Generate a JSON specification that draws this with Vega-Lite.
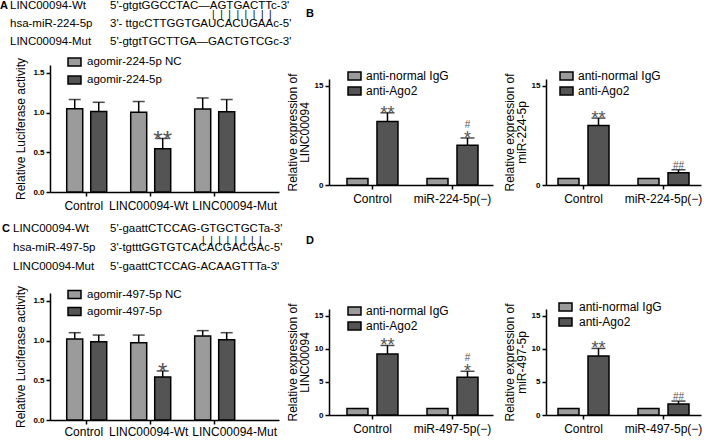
{
  "$schema": "https://vega.github.io/schema/vega-lite/v6.json",
  "padding": 0,
  "background": "white",
  "spacing": 12,
  "resolve": {"scale": {"fill": "independent"}, "legend": {"fill": "independent"}},
  "vconcat": [
    {
      "spacing": -6,
      "resolve": {"scale": {"fill": "independent"}, "legend": {"fill": "independent"}},
      "hconcat": [
        {
          "width": 229, "height": 127,
          "layer": [
            {
              "data": {"values": [
                {"group": "Control", "treatment": "agomir-224-5p NC", "mean": 1.05, "upper": 1.165},
                {"group": "Control", "treatment": "agomir-224-5p", "mean": 1.015, "upper": 1.13},
                {"group": "LINC00094-Wt", "treatment": "agomir-224-5p NC", "mean": 1.005, "upper": 1.14},
                {"group": "LINC00094-Wt", "treatment": "agomir-224-5p", "mean": 0.545, "upper": 0.675, "star": "**"},
                {"group": "LINC00094-Mut", "treatment": "agomir-224-5p NC", "mean": 1.045, "upper": 1.185},
                {"group": "LINC00094-Mut", "treatment": "agomir-224-5p", "mean": 1.01, "upper": 1.165}
              ]},
              "encoding": {
                "x": {"field": "group", "type": "nominal", "title": null, "sort": ["Control", "LINC00094-Wt", "LINC00094-Mut"], "scale": {"type": "band", "paddingInner": 0.375, "paddingOuter": 0.477, "align": 0.274},
                      "axis": {"labelOffset": {"condition": [{"test": "datum.value === 'LINC00094-Mut'", "value": 20}, {"test": "datum.value === 'LINC00094-Wt'", "value": -2}], "value": -3}}}
              },
              "layer": [
                {"transform": [{"filter": "datum.treatment === 'agomir-224-5p NC'"}], "mark": {"type": "bar", "stroke": "black", "strokeWidth": 1.5, "width": 16, "xOffset": -12},
                 "encoding": {
                   "y": {"field": "mean", "type": "quantitative", "scale": {"domain": [0, 1.5]}, "axis": {"values": [0, 0.5, 1, 1.5], "format": ".1f", "labelOverlap": false, "title": "Relative Luciferase activity", "titlePadding": 5}},
                   "fill": {"field": "treatment", "type": "nominal", "scale": {"domain": ["agomir-224-5p NC", "agomir-224-5p"], "range": ["#9b9b9b", "#545454"]}, "legend": {"title": null, "orient": "none", "legendX": 17, "legendY": -10.5, "rowPadding": 3, "labelFontSize": 11.5, "labelOffset": 5}}
                 }},
                {"transform": [{"filter": "datum.treatment === 'agomir-224-5p'"}], "mark": {"type": "bar", "stroke": "black", "strokeWidth": 1.5, "width": 16, "xOffset": 12},
                 "encoding": {"y": {"field": "mean", "type": "quantitative"}, "fill": {"field": "treatment", "type": "nominal"}}},
                {"transform": [{"filter": "datum.treatment === 'agomir-224-5p NC' && isValid(datum.upper)"}], "mark": {"type": "rule", "color": "black", "strokeWidth": 1.5, "xOffset": -12},
                 "encoding": {"y": {"field": "mean", "type": "quantitative"}, "y2": {"field": "upper"}}},
                {"transform": [{"filter": "datum.treatment === 'agomir-224-5p' && isValid(datum.upper)"}], "mark": {"type": "rule", "color": "black", "strokeWidth": 1.5, "xOffset": 12},
                 "encoding": {"y": {"field": "mean", "type": "quantitative"}, "y2": {"field": "upper"}}},
                {"transform": [{"filter": "datum.treatment === 'agomir-224-5p NC' && isValid(datum.upper)"}], "mark": {"type": "tick", "color": "black", "thickness": 1.5, "size": 12, "xOffset": -12},
                 "encoding": {"y": {"field": "upper", "type": "quantitative"}}},
                {"transform": [{"filter": "datum.treatment === 'agomir-224-5p' && isValid(datum.upper)"}], "mark": {"type": "tick", "color": "black", "thickness": 1.5, "size": 12, "xOffset": 12},
                 "encoding": {"y": {"field": "upper", "type": "quantitative"}}},
                {"transform": [{"filter": "datum.star"}], "mark": {"type": "text", "fontSize": 24, "baseline": "alphabetic", "dy": 9.5, "xOffset": 12, "color": "#555"},
                 "encoding": {"y": {"field": "upper", "type": "quantitative"}, "text": {"field": "star"}}}
              ]
            },
            {
              "data": {"values": [
                {"line": "Wt", "col": "name", "text": "LINC00094-Wt"},
                {"line": "Wt", "col": "seq", "text": "5'-gtgtGGCCTAC—AGTGACTTc-3'"},
                {"line": "miR", "col": "name", "text": "hsa-miR-224-5p"},
                {"line": "miR", "col": "seq", "text": "3'- ttgcCTTGGTGAUCACUGAAc-5'"},
                {"line": "Mut", "col": "name", "text": "LINC00094-Mut"},
                {"line": "Mut", "col": "seq", "text": "5'-gtgtTGCTTGA—GACTGTCGc-3'"}
              ]},
              "encoding": {
                "x": {"field": "col", "type": "nominal", "scale": {"type": "point", "domain": ["name", "seq"], "range": [-40, 60], "padding": 0}, "axis": null},
                "y": {"field": "line", "type": "nominal", "scale": {"type": "point", "domain": ["Wt", "miR", "Mut"], "range": [-59, -23], "padding": 0}, "axis": null}
              },
              "layer": [
                {"mark": {"type": "text", "align": "left", "baseline": "middle", "fontSize": 11.5, "color": "black"}, "encoding": {"text": {"field": "text"}}},
                {"transform": [{"filter": "datum.col === 'name' && datum.line === 'Wt'"}], "mark": {"type": "text", "align": "left", "baseline": "middle", "fontSize": 11, "fontWeight": "bold", "dx": -10, "color": "black"}, "encoding": {"text": {"value": "A"}}},
                {"transform": [{"filter": "datum.col === 'seq' && datum.line === 'Wt'"}], "mark": {"type": "text", "align": "left", "baseline": "middle", "fontSize": 10, "dx": 102, "dy": 9, "color": "black"}, "encoding": {"text": {"value": "|\u00a0\u00a0|\u00a0\u00a0|\u00a0\u00a0|\u00a0\u00a0|\u00a0\u00a0|\u00a0\u00a0|\u00a0\u00a0|"}}}
              ]
            }
          ],
          "resolve": {"scale": {"x": "independent", "y": "independent"}}
        },
        {
          "title": {"text": "B", "anchor": "start", "fontSize": 11, "fontWeight": "bold", "offset": 46, "dx": 20},
          "spacing": 10,
          "resolve": {"scale": {"fill": "independent"}, "legend": {"fill": "independent"}},
          "hconcat": [
            {
              "width": 164, "height": 120,
              "data": {"values": [
                {"group": "Control", "treatment": "anti-normal IgG", "mean": 1.0},
                {"group": "Control", "treatment": "anti-Ago2", "mean": 9.6, "upper": 10.9, "star": "**"},
                {"group": "miR-224-5p(−)", "treatment": "anti-normal IgG", "mean": 1.0},
                {"group": "miR-224-5p(−)", "treatment": "anti-Ago2", "mean": 6.0, "upper": 7.1, "star": "*", "hash": "#"}
              ]},
              "encoding": {
                "x": {"field": "group", "type": "nominal", "title": null, "sort": ["Control", "miR-224-5p(−)"], "scale": {"type": "band", "paddingInner": 0.3625, "paddingOuter": 0.206, "align": 0.545}}
              },
              "layer": [
                {"transform": [{"filter": "datum.treatment === 'anti-normal IgG'"}], "mark": {"type": "bar", "stroke": "black", "strokeWidth": 1.5, "width": 21, "xOffset": -15},
                 "encoding": {
                   "y": {"field": "mean", "type": "quantitative", "scale": {"domain": [0, 15], "range": [120, 14]}, "axis": {"values": [0, 5, 10, 15], "labelOverlap": false, "title": ["Relative expression of", "LINC00094"], "titlePadding": 3, "titleLineHeight": 12}},
                   "fill": {"field": "treatment", "type": "nominal", "scale": {"domain": ["anti-normal IgG", "anti-Ago2"], "range": ["#9b9b9b", "#545454"]}, "legend": {"title": null, "orient": "none", "legendX": 18, "legendY": 3.5, "rowPadding": -6, "labelOffset": 4}}
                 }},
                {"transform": [{"filter": "datum.treatment === 'anti-Ago2'"}], "mark": {"type": "bar", "stroke": "black", "strokeWidth": 1.5, "width": 21, "xOffset": 15},
                 "encoding": {"y": {"field": "mean", "type": "quantitative"}, "fill": {"field": "treatment", "type": "nominal"}}},
                {"transform": [{"filter": "isValid(datum.upper)"}], "mark": {"type": "rule", "color": "black", "strokeWidth": 1.5, "xOffset": 15},
                 "encoding": {"y": {"field": "mean", "type": "quantitative"}, "y2": {"field": "upper"}}},
                {"transform": [{"filter": "isValid(datum.upper)"}], "mark": {"type": "tick", "color": "black", "thickness": 1.5, "size": 14, "xOffset": 15},
                 "encoding": {"y": {"field": "upper", "type": "quantitative"}}},
                {"transform": [{"filter": "datum.star"}], "mark": {"type": "text", "fontSize": 18, "baseline": "alphabetic", "dy": 6, "xOffset": 15, "color": "#555"},
                 "encoding": {"y": {"field": "upper", "type": "quantitative"}, "text": {"field": "star"}}},
                {"transform": [{"filter": "datum.hash && datum.star"}], "mark": {"type": "text", "fontSize": 10, "baseline": "alphabetic", "dy": -10, "xOffset": 15, "color": "#555"},
                 "encoding": {"y": {"field": "upper", "type": "quantitative"}, "text": {"field": "hash"}}}
              ]
            },
            {
              "width": 155, "height": 120,
              "data": {"values": [
                {"group": "Control", "treatment": "anti-normal IgG", "mean": 1.0},
                {"group": "Control", "treatment": "anti-Ago2", "mean": 9.0, "upper": 10.1, "star": "**"},
                {"group": "miR-224-5p(−)", "treatment": "anti-normal IgG", "mean": 1.0},
                {"group": "miR-224-5p(−)", "treatment": "anti-Ago2", "mean": 1.85, "upper": 2.3, "hash": "##"}
              ]},
              "encoding": {
                "x": {"field": "group", "type": "nominal", "title": null, "sort": ["Control", "miR-224-5p(−)"], "scale": {"type": "band", "paddingInner": 0.3625, "paddingOuter": 0.15, "align": 0.5}}
              },
              "layer": [
                {"transform": [{"filter": "datum.treatment === 'anti-normal IgG'"}], "mark": {"type": "bar", "stroke": "black", "strokeWidth": 1.5, "width": 21, "xOffset": -15},
                 "encoding": {
                   "y": {"field": "mean", "type": "quantitative", "scale": {"domain": [0, 15], "range": [120, 14]}, "axis": {"values": [0, 5, 10, 15], "labelOverlap": false, "title": ["Relative expression of", "miR-224-5p"], "titlePadding": 3, "titleLineHeight": 12}},
                   "fill": {"field": "treatment", "type": "nominal", "scale": {"domain": ["anti-normal IgG", "anti-Ago2"], "range": ["#9b9b9b", "#545454"]}, "legend": {"title": null, "orient": "none", "legendX": 13, "legendY": 3.5, "rowPadding": -6, "labelOffset": 4}}
                 }},
                {"transform": [{"filter": "datum.treatment === 'anti-Ago2'"}], "mark": {"type": "bar", "stroke": "black", "strokeWidth": 1.5, "width": 21, "xOffset": 15},
                 "encoding": {"y": {"field": "mean", "type": "quantitative"}, "fill": {"field": "treatment", "type": "nominal"}}},
                {"transform": [{"filter": "isValid(datum.upper)"}], "mark": {"type": "rule", "color": "black", "strokeWidth": 1.5, "xOffset": 15},
                 "encoding": {"y": {"field": "mean", "type": "quantitative"}, "y2": {"field": "upper"}}},
                {"transform": [{"filter": "isValid(datum.upper)"}], "mark": {"type": "tick", "color": "black", "thickness": 1.5, "size": 14, "xOffset": 15},
                 "encoding": {"y": {"field": "upper", "type": "quantitative"}}},
                {"transform": [{"filter": "datum.star"}], "mark": {"type": "text", "fontSize": 18, "baseline": "alphabetic", "dy": 6, "xOffset": 15, "color": "#555"},
                 "encoding": {"y": {"field": "upper", "type": "quantitative"}, "text": {"field": "star"}}},
                {"transform": [{"filter": "datum.hash && !datum.star"}], "mark": {"type": "text", "fontSize": 10, "baseline": "alphabetic", "dy": -1, "xOffset": 15, "color": "#555"},
                 "encoding": {"y": {"field": "upper", "type": "quantitative"}, "text": {"field": "hash"}}}
              ]
            }
          ]
        }
      ]
    },
    {
      "spacing": 3,
      "resolve": {"scale": {"fill": "independent"}, "legend": {"fill": "independent"}},
      "hconcat": [
        {
          "width": 229, "height": 127,
          "layer": [
            {
              "data": {"values": [
                {"group": "Control", "treatment": "agomir-497-5p NC", "mean": 1.02, "upper": 1.1},
                {"group": "Control", "treatment": "agomir-497-5p", "mean": 0.985, "upper": 1.07},
                {"group": "LINC00094-Wt", "treatment": "agomir-497-5p NC", "mean": 0.973, "upper": 1.07},
                {"group": "LINC00094-Wt", "treatment": "agomir-497-5p", "mean": 0.542, "upper": 0.618, "star": "*"},
                {"group": "LINC00094-Mut", "treatment": "agomir-497-5p NC", "mean": 1.057, "upper": 1.126},
                {"group": "LINC00094-Mut", "treatment": "agomir-497-5p", "mean": 1.01, "upper": 1.1}
              ]},
              "encoding": {
                "x": {"field": "group", "type": "nominal", "title": null, "sort": ["Control", "LINC00094-Wt", "LINC00094-Mut"], "scale": {"type": "band", "paddingInner": 0.375, "paddingOuter": 0.477, "align": 0.274},
                      "axis": {"labelPadding": 2, "labelOffset": {"condition": [{"test": "datum.value === 'LINC00094-Mut'", "value": 20}, {"test": "datum.value === 'LINC00094-Wt'", "value": -2}], "value": -3}}}
              },
              "layer": [
                {"transform": [{"filter": "datum.treatment === 'agomir-497-5p NC'"}], "mark": {"type": "bar", "stroke": "black", "strokeWidth": 1.5, "width": 16, "xOffset": -12},
                 "encoding": {
                   "y": {"field": "mean", "type": "quantitative", "scale": {"domain": [0, 1.5]}, "axis": {"values": [0, 0.5, 1, 1.5], "format": ".1f", "labelOverlap": false, "title": "Relative Luciferase activity", "titlePadding": 5}},
                   "fill": {"field": "treatment", "type": "nominal", "scale": {"domain": ["agomir-497-5p NC", "agomir-497-5p"], "range": ["#9b9b9b", "#545454"]}, "legend": {"title": null, "orient": "none", "legendX": 17, "legendY": -6, "rowPadding": 2, "labelFontSize": 11.5, "labelOffset": 5}}
                 }},
                {"transform": [{"filter": "datum.treatment === 'agomir-497-5p'"}], "mark": {"type": "bar", "stroke": "black", "strokeWidth": 1.5, "width": 16, "xOffset": 12},
                 "encoding": {"y": {"field": "mean", "type": "quantitative"}, "fill": {"field": "treatment", "type": "nominal"}}},
                {"transform": [{"filter": "datum.treatment === 'agomir-497-5p NC' && isValid(datum.upper)"}], "mark": {"type": "rule", "color": "black", "strokeWidth": 1.5, "xOffset": -12},
                 "encoding": {"y": {"field": "mean", "type": "quantitative"}, "y2": {"field": "upper"}}},
                {"transform": [{"filter": "datum.treatment === 'agomir-497-5p' && isValid(datum.upper)"}], "mark": {"type": "rule", "color": "black", "strokeWidth": 1.5, "xOffset": 12},
                 "encoding": {"y": {"field": "mean", "type": "quantitative"}, "y2": {"field": "upper"}}},
                {"transform": [{"filter": "datum.treatment === 'agomir-497-5p NC' && isValid(datum.upper)"}], "mark": {"type": "tick", "color": "black", "thickness": 1.5, "size": 12, "xOffset": -12},
                 "encoding": {"y": {"field": "upper", "type": "quantitative"}}},
                {"transform": [{"filter": "datum.treatment === 'agomir-497-5p' && isValid(datum.upper)"}], "mark": {"type": "tick", "color": "black", "thickness": 1.5, "size": 12, "xOffset": 12},
                 "encoding": {"y": {"field": "upper", "type": "quantitative"}}},
                {"transform": [{"filter": "datum.star"}], "mark": {"type": "text", "fontSize": 24, "baseline": "alphabetic", "dy": 9.5, "xOffset": 12, "color": "#555"},
                 "encoding": {"y": {"field": "upper", "type": "quantitative"}, "text": {"field": "star"}}}
              ]
            },
            {
              "data": {"values": [
                {"line": "Wt", "col": "name", "text": "LINC00094-Wt"},
                {"line": "Wt", "col": "seq", "text": "5'-gaattCTCCAG-GTGCTGCTa-3'"},
                {"line": "miR", "col": "name", "text": "hsa-miR-497-5p"},
                {"line": "miR", "col": "seq", "text": "3'-tgtttGGTGTCACACGACGAc-5'"},
                {"line": "Mut", "col": "name", "text": "LINC00094-Mut"},
                {"line": "Mut", "col": "seq", "text": "5'-gaattCTCCAG-ACAAGTTTa-3'"}
              ]},
              "encoding": {
                "x": {"field": "col", "type": "nominal", "scale": {"type": "point", "domain": ["name", "seq"], "range": [-37, 60], "padding": 0}, "axis": null},
                "y": {"field": "line", "type": "nominal", "scale": {"type": "point", "domain": ["Wt", "miR", "Mut"], "range": [-64, -26], "padding": 0}, "axis": null}
              },
              "layer": [
                {"mark": {"type": "text", "align": "left", "baseline": "middle", "fontSize": 11.5, "color": "black"}, "encoding": {"text": {"field": "text"}}},
                {"transform": [{"filter": "datum.col === 'name' && datum.line === 'Wt'"}], "mark": {"type": "text", "align": "left", "baseline": "middle", "fontSize": 11, "fontWeight": "bold", "dx": -11, "color": "black"}, "encoding": {"text": {"value": "C"}}},
                {"transform": [{"filter": "datum.col === 'seq' && datum.line === 'Wt'"}], "mark": {"type": "text", "align": "left", "baseline": "middle", "fontSize": 10, "dx": 92, "dy": 12, "color": "black"}, "encoding": {"text": {"value": "|\u00a0\u00a0|\u00a0\u00a0|\u00a0\u00a0|\u00a0\u00a0|\u00a0\u00a0|\u00a0\u00a0|\u00a0\u00a0|"}}}
              ]
            }
          ],
          "resolve": {"scale": {"x": "independent", "y": "independent"}}
        },
        {
          "title": {"text": "D", "anchor": "start", "fontSize": 11, "fontWeight": "bold", "offset": 47, "dx": 20},
          "spacing": 10,
          "resolve": {"scale": {"fill": "independent"}, "legend": {"fill": "independent"}},
          "hconcat": [
            {
              "width": 164, "height": 122,
              "data": {"values": [
                {"group": "Control", "treatment": "anti-normal IgG", "mean": 1.0},
                {"group": "Control", "treatment": "anti-Ago2", "mean": 9.2, "upper": 10.5, "star": "**"},
                {"group": "miR-497-5p(−)", "treatment": "anti-normal IgG", "mean": 1.0},
                {"group": "miR-497-5p(−)", "treatment": "anti-Ago2", "mean": 5.7, "upper": 6.6, "star": "*", "hash": "#"}
              ]},
              "encoding": {
                "x": {"field": "group", "type": "nominal", "title": null, "sort": ["Control", "miR-497-5p(−)"], "scale": {"type": "band", "paddingInner": 0.3625, "paddingOuter": 0.206, "align": 0.545}}
              },
              "layer": [
                {"transform": [{"filter": "datum.treatment === 'anti-normal IgG'"}], "mark": {"type": "bar", "stroke": "black", "strokeWidth": 1.5, "width": 21, "xOffset": -15},
                 "encoding": {
                   "y": {"field": "mean", "type": "quantitative", "scale": {"domain": [0, 15], "range": [122, 16]}, "axis": {"values": [0, 5, 10, 15], "labelOverlap": false, "title": ["Relative expression of", "LINC00094"], "titlePadding": 3, "titleLineHeight": 12}},
                   "fill": {"field": "treatment", "type": "nominal", "scale": {"domain": ["anti-normal IgG", "anti-Ago2"], "range": ["#9b9b9b", "#545454"]}, "legend": {"title": null, "orient": "none", "legendX": 18, "legendY": 10.5, "rowPadding": -6, "labelOffset": 4}}
                 }},
                {"transform": [{"filter": "datum.treatment === 'anti-Ago2'"}], "mark": {"type": "bar", "stroke": "black", "strokeWidth": 1.5, "width": 21, "xOffset": 15},
                 "encoding": {"y": {"field": "mean", "type": "quantitative"}, "fill": {"field": "treatment", "type": "nominal"}}},
                {"transform": [{"filter": "isValid(datum.upper)"}], "mark": {"type": "rule", "color": "black", "strokeWidth": 1.5, "xOffset": 15},
                 "encoding": {"y": {"field": "mean", "type": "quantitative"}, "y2": {"field": "upper"}}},
                {"transform": [{"filter": "isValid(datum.upper)"}], "mark": {"type": "tick", "color": "black", "thickness": 1.5, "size": 14, "xOffset": 15},
                 "encoding": {"y": {"field": "upper", "type": "quantitative"}}},
                {"transform": [{"filter": "datum.star"}], "mark": {"type": "text", "fontSize": 18, "baseline": "alphabetic", "dy": 6, "xOffset": 15, "color": "#555"},
                 "encoding": {"y": {"field": "upper", "type": "quantitative"}, "text": {"field": "star"}}},
                {"transform": [{"filter": "datum.hash && datum.star"}], "mark": {"type": "text", "fontSize": 10, "baseline": "alphabetic", "dy": -10, "xOffset": 15, "color": "#555"},
                 "encoding": {"y": {"field": "upper", "type": "quantitative"}, "text": {"field": "hash"}}}
              ]
            },
            {
              "width": 155, "height": 122,
              "data": {"values": [
                {"group": "Control", "treatment": "anti-normal IgG", "mean": 1.0},
                {"group": "Control", "treatment": "anti-Ago2", "mean": 8.9, "upper": 10.05, "star": "**"},
                {"group": "miR-497-5p(−)", "treatment": "anti-normal IgG", "mean": 1.0},
                {"group": "miR-497-5p(−)", "treatment": "anti-Ago2", "mean": 1.65, "upper": 2.1, "hash": "##"}
              ]},
              "encoding": {
                "x": {"field": "group", "type": "nominal", "title": null, "sort": ["Control", "miR-497-5p(−)"], "scale": {"type": "band", "paddingInner": 0.3625, "paddingOuter": 0.15, "align": 0.5}}
              },
              "layer": [
                {"transform": [{"filter": "datum.treatment === 'anti-normal IgG'"}], "mark": {"type": "bar", "stroke": "black", "strokeWidth": 1.5, "width": 21, "xOffset": -15},
                 "encoding": {
                   "y": {"field": "mean", "type": "quantitative", "scale": {"domain": [0, 15], "range": [122, 16]}, "axis": {"values": [0, 5, 10, 15], "labelOverlap": false, "title": ["Relative expression of", "miR-497-5p"], "titlePadding": 3, "titleLineHeight": 12}},
                   "fill": {"field": "treatment", "type": "nominal", "scale": {"domain": ["anti-normal IgG", "anti-Ago2"], "range": ["#9b9b9b", "#545454"]}, "legend": {"title": null, "orient": "none", "legendX": 12, "legendY": 6.5, "rowPadding": -5, "labelOffset": 6}}
                 }},
                {"transform": [{"filter": "datum.treatment === 'anti-Ago2'"}], "mark": {"type": "bar", "stroke": "black", "strokeWidth": 1.5, "width": 21, "xOffset": 15},
                 "encoding": {"y": {"field": "mean", "type": "quantitative"}, "fill": {"field": "treatment", "type": "nominal"}}},
                {"transform": [{"filter": "isValid(datum.upper)"}], "mark": {"type": "rule", "color": "black", "strokeWidth": 1.5, "xOffset": 15},
                 "encoding": {"y": {"field": "mean", "type": "quantitative"}, "y2": {"field": "upper"}}},
                {"transform": [{"filter": "isValid(datum.upper)"}], "mark": {"type": "tick", "color": "black", "thickness": 1.5, "size": 14, "xOffset": 15},
                 "encoding": {"y": {"field": "upper", "type": "quantitative"}}},
                {"transform": [{"filter": "datum.star"}], "mark": {"type": "text", "fontSize": 18, "baseline": "alphabetic", "dy": 6, "xOffset": 15, "color": "#555"},
                 "encoding": {"y": {"field": "upper", "type": "quantitative"}, "text": {"field": "star"}}},
                {"transform": [{"filter": "datum.hash && !datum.star"}], "mark": {"type": "text", "fontSize": 10, "baseline": "alphabetic", "dy": -1, "xOffset": 15, "color": "#555"},
                 "encoding": {"y": {"field": "upper", "type": "quantitative"}, "text": {"field": "hash"}}}
              ]
            }
          ]
        }
      ]
    }
  ],
  "config": {
    "view": {"stroke": null},
    "font": "Liberation Sans",
    "axis": {"grid": false, "domainColor": "black", "domainWidth": 1.5, "tickColor": "black", "tickWidth": 1.5, "tickSize": 4, "labelColor": "black", "titleColor": "black", "labelFont": "Liberation Sans", "titleFont": "Liberation Sans", "titleFontWeight": "normal", "labelFlush": false},
    "axisX": {"labelFontSize": 12, "labelAngle": 0, "labelPadding": 4},
    "axisY": {"labelFontSize": 8, "labelFontWeight": "bold", "labelPadding": 2, "titleFontSize": 12, "labelFlush": false},
    "legend": {"padding": 0, "labelFont": "Liberation Sans", "labelFontSize": 12, "labelColor": "black", "symbolType": "M-1,-0.6H1V0.6H-1Z", "symbolSize": 169, "symbolStrokeColor": "black", "symbolStrokeWidth": 1.5},
    "text": {"font": "Liberation Sans"},
    "title": {"font": "Liberation Sans", "color": "black"}
  }
}
